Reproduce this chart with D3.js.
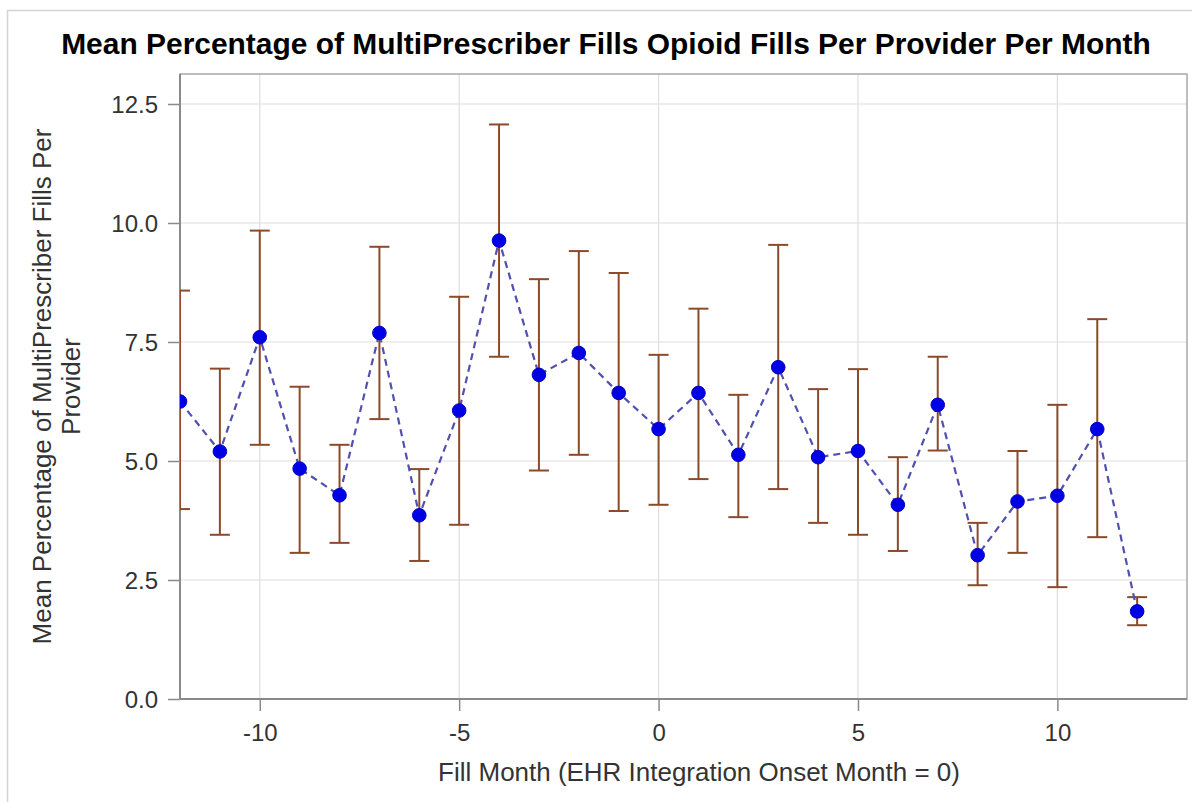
<!DOCTYPE html>
<html>
<head>
<meta charset="utf-8">
<script src="https://cdn.jsdelivr.net/npm/d3@7"></script>
<style>
  html, body { margin: 0; padding: 0; background: #fff; }
  svg { display: block; }
  text { font-family: "Liberation Sans", Arial, sans-serif; }
</style>
</head>
<body>
<svg id="chart" width="1192" height="802"></svg>
<script>
const months = [-12,-11,-10,-9,-8,-7,-6,-5,-4,-3,-2,-1,0,1,2,3,4,5,6,7,8,9,10,11,12];
const means  = [6.25,5.20,7.60,4.84,4.28,7.69,3.86,6.06,9.63,6.81,7.27,6.43,5.67,6.43,5.13,6.97,5.08,5.21,4.08,6.18,3.02,4.15,4.27,5.67,1.84];
const upper  = [8.58,6.94,9.84,6.56,5.34,9.50,4.83,8.45,12.07,8.82,9.41,8.95,7.23,8.20,6.39,9.54,6.51,6.93,5.08,7.19,3.70,5.21,6.18,7.98,2.14];
const lower  = [3.99,3.45,5.34,3.07,3.28,5.88,2.90,3.66,7.19,4.80,5.13,3.95,4.08,4.62,3.82,4.41,3.70,3.45,3.11,5.22,2.39,3.07,2.35,3.40,1.55];
const xTicks = [-10,-5,0,5,10];
const yTicks = [0,2.5,5,7.5,10,12.5];
const titleText = "Mean Percentage of MultiPrescriber Fills Opioid Fills Per Provider Per Month";
const xTitle = "Fill Month (EHR Integration Onset Month = 0)";
const yTitleLines = ["Mean Percentage of MultiPrescriber Fills Per", "Provider"];

const data = months.map((m, i) => ({m, mean: means[i], hi: upper[i], lo: lower[i]}));

const svg = d3.select("#chart");
const L = 180, R = 1187, T = 74, B = 699;

const x = d3.scaleLinear().domain([-12, 13.25]).range([L, R]);
const y = d3.scaleLinear().domain([0, 13.13]).range([B, T]);

// outer frame
svg.append("rect").attr("x", 7.5).attr("y", 10.5).attr("width", 1190).attr("height", 800)
  .attr("fill", "none").attr("stroke", "#d4d4d4").attr("stroke-width", 1.5);

// helper: fit text to a width
function fit(sel, width) {
  const w = sel.node().getComputedTextLength();
  const fs = +sel.attr("font-size");
  sel.attr("font-size", fs * width / w);
}

// title
const title = svg.append("text").attr("x", 606).attr("y", 54).attr("text-anchor", "middle")
  .attr("font-weight", "bold").attr("font-size", 100).attr("fill", "#000").text(titleText);
fit(title, 1090);

// clip
svg.append("clipPath").attr("id", "plotclip").append("rect")
  .attr("x", L).attr("y", T).attr("width", R - L).attr("height", B - T);

// gridlines
const grid = svg.append("g");
grid.selectAll(".hg").data(yTicks.filter(v => v > 0)).join("line")
  .attr("x1", L).attr("x2", R).attr("y1", d => y(d)).attr("y2", d => y(d))
  .attr("stroke", "#dedede").attr("stroke-width", 1.2);
grid.selectAll(".vg").data(xTicks).join("line")
  .attr("y1", T).attr("y2", B).attr("x1", d => x(d)).attr("x2", d => x(d))
  .attr("stroke", "#dedede").attr("stroke-width", 1.2);

// axes
const yAxis = d3.axisLeft(y).tickValues(yTicks).tickFormat(d3.format(".1f")).tickSize(12).tickPadding(10);
const gy = svg.append("g").attr("transform", `translate(${L},0)`).call(yAxis);
const xAxis = d3.axisBottom(x).tickValues(xTicks).tickFormat(d => d3.format("d")(d).replace("−", "-")).tickSize(12).tickPadding(13);
const gx = svg.append("g").attr("transform", `translate(0,${B})`).call(xAxis);
[gx, gy].forEach(g => {
  g.select(".domain").remove();
  g.selectAll(".tick line").attr("stroke", "#8a8a8a").attr("stroke-width", 1.5);
  g.selectAll(".tick text").attr("font-size", 24).attr("fill", "#333")
    .attr("font-family", "'Liberation Sans', Arial, sans-serif");
});
gy.selectAll(".tick text").attr("dy", "0.35em");

// plot frame
svg.append("rect").attr("x", L).attr("y", T).attr("width", R - L).attr("height", B - T)
  .attr("fill", "none").attr("stroke", "#a8a8a8").attr("stroke-width", 1.5);
svg.append("line").attr("x1", L).attr("x2", L).attr("y1", T).attr("y2", B).attr("stroke", "#8a8a8a").attr("stroke-width", 2);
svg.append("line").attr("x1", L).attr("x2", R).attr("y1", B).attr("y2", B).attr("stroke", "#8a8a8a").attr("stroke-width", 2);

// axis titles
const xt = svg.append("text").attr("x", 699).attr("y", 781).attr("text-anchor", "middle")
  .attr("font-size", 26).attr("fill", "#333").text(xTitle);
fit(xt, 522);
const yt = svg.append("text").attr("transform", `translate(0,${(T + B) / 2}) rotate(-90)`)
  .attr("text-anchor", "middle").attr("font-size", 26).attr("fill", "#333");
yTitleLines.forEach((t, i) => {
  yt.append("tspan").attr("x", 0).attr("y", 51 + i * 29).text(t);
});

// marks
const plot = svg.append("g").attr("clip-path", "url(#plotclip)");
const ebColor = "#8b4a2a";
const cap = 10;
plot.selectAll(".eb").data(data).join("line")
  .attr("x1", d => x(d.m)).attr("x2", d => x(d.m))
  .attr("y1", d => y(d.lo)).attr("y2", d => y(d.hi))
  .attr("stroke", ebColor).attr("stroke-width", 2);
plot.selectAll(".capHi").data(data).join("line")
  .attr("x1", d => x(d.m) - cap).attr("x2", d => x(d.m) + cap)
  .attr("y1", d => y(d.hi)).attr("y2", d => y(d.hi))
  .attr("stroke", ebColor).attr("stroke-width", 2);
plot.selectAll(".capLo").data(data).join("line")
  .attr("x1", d => x(d.m) - cap).attr("x2", d => x(d.m) + cap)
  .attr("y1", d => y(d.lo)).attr("y2", d => y(d.lo))
  .attr("stroke", ebColor).attr("stroke-width", 2);

const line = d3.line().x(d => x(d.m)).y(d => y(d.mean));
plot.append("path").datum(data).attr("d", line)
  .attr("fill", "none").attr("stroke", "#5050b0").attr("stroke-width", 2.2)
  .attr("stroke-dasharray", "7,5");

plot.selectAll(".pt").data(data).join("circle")
  .attr("cx", d => x(d.m)).attr("cy", d => y(d.mean)).attr("r", 6.8)
  .attr("fill", "#0000e6").attr("stroke", "#0000c0").attr("stroke-width", 1);
</script>
</body>
</html>
